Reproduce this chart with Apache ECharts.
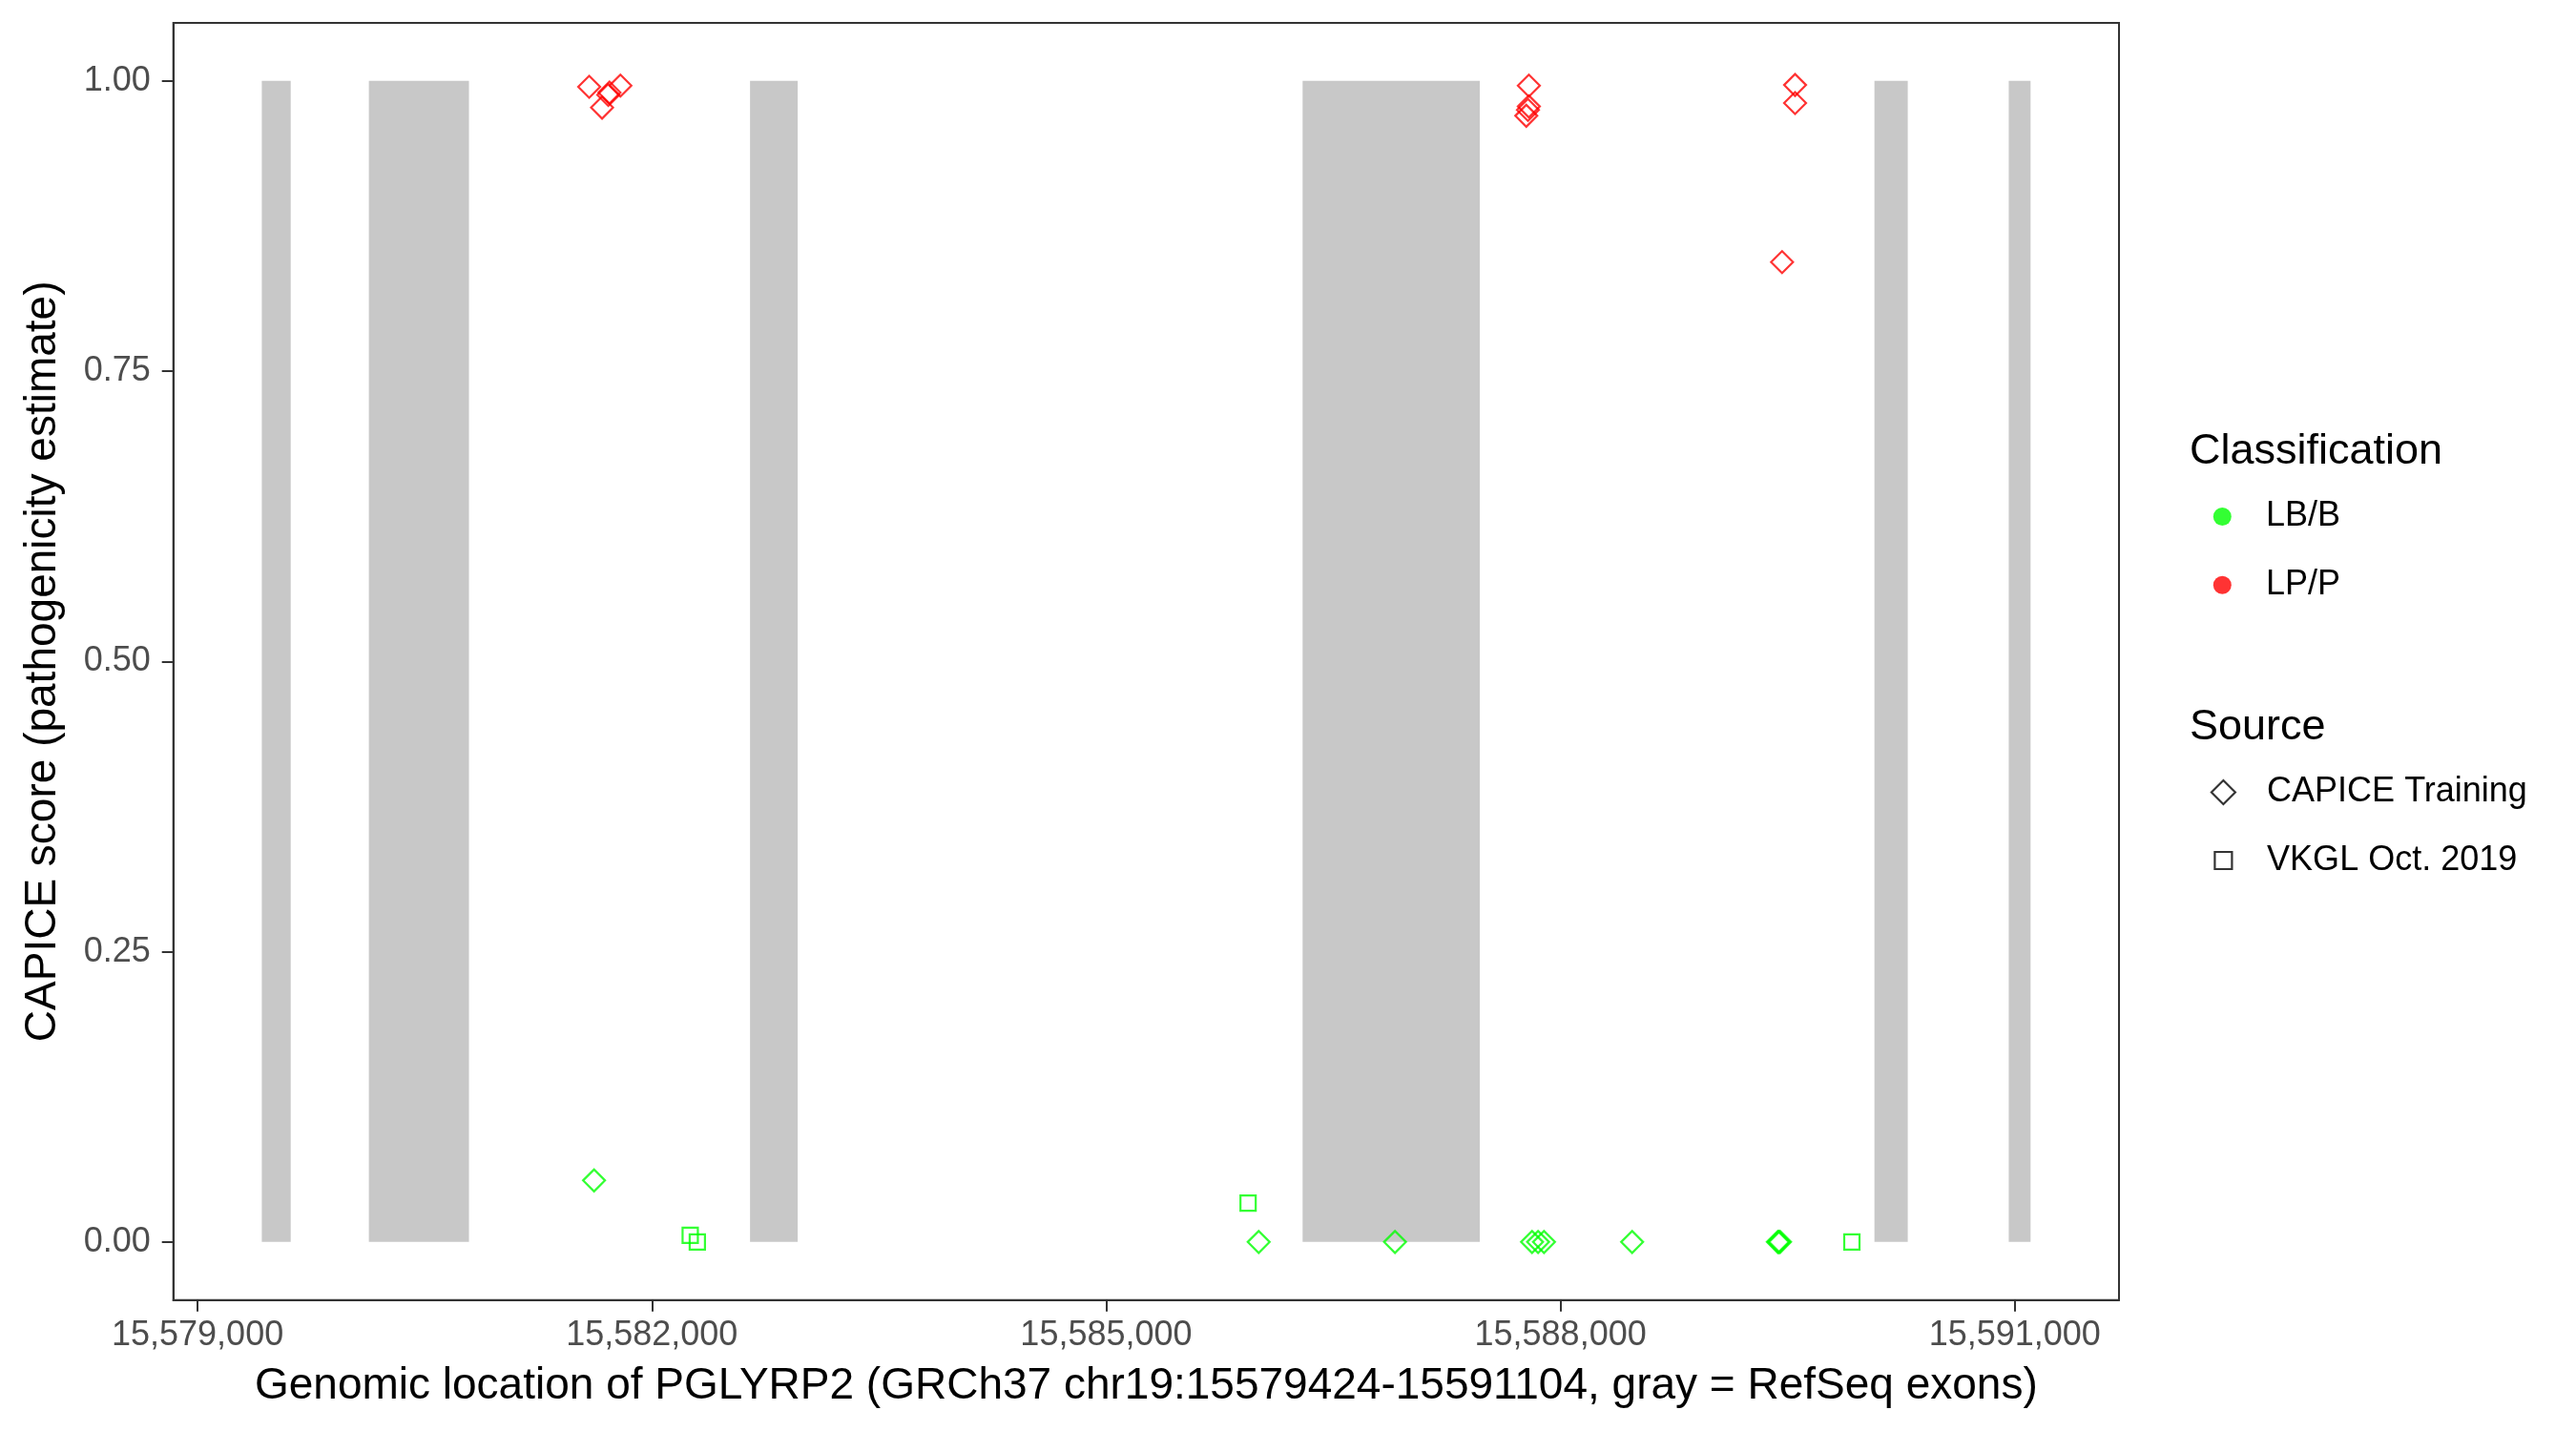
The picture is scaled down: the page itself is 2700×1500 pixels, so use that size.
<!DOCTYPE html>
<html>
<head>
<meta charset="utf-8">
<title>PGLYRP2 CAPICE scores</title>
<script src="https://cdn.jsdelivr.net/npm/echarts@6/dist/echarts.min.js"></script>
<style>
  html, body { margin: 0; padding: 0; background: #ffffff; }
  #chart { width: 2700px; height: 1500px; }
</style>
</head>
<body>
<div id="chart"></div>
<script>
'use strict';

// RefSeq exons (gray boxes), genomic start / end
var exonStart = [15579424, 15580131, 15582648, 15586297, 15590073, 15590960];
var exonEnd   = [15579615, 15580792, 15582963, 15587467, 15590293, 15591104];

// CAPICE training, LP/P (red diamonds)
var capicePathPos   = [15581586, 15581792, 15581712, 15581720, 15581671, 15587791, 15587791, 15587785, 15587774, 15589549, 15589549, 15589463];
var capicePathScore = [0.995, 0.996, 0.988, 0.990, 0.977, 0.996, 0.978, 0.975, 0.970, 0.9965, 0.981, 0.844];

// CAPICE training, LB/B (green diamonds)
var capiceBenPos   = [15581618, 15586007, 15586907, 15587812, 15587852, 15587891, 15588473, 15589435, 15589442, 15589450];
var capiceBenScore = [0.053, 0.0, 0.0, 0.0, 0.0, 0.0, 0.0, 0.0, 0.0, 0.0];

// VKGL Oct. 2019, LB/B (green squares)
var vkglBenPos   = [15582253, 15582300, 15585937, 15589924];
var vkglBenScore = [0.0057, 0.0, 0.0334, 0.0];

var xTicks = [15579000, 15582000, 15585000, 15588000, 15591000];
var yTicks = [0, 0.25, 0.5, 0.75, 1];

var GREEN = '#00FF00';
var RED = '#FF0000';
var FONT = '"Liberation Sans", Arial, sans-serif';

function pairs(xs, ys) {
    var out = [];
    for (var i = 0; i < xs.length; i++) {
        out.push([xs[i], ys[i]]);
    }
    return out;
}

function exonData() {
    var out = [];
    for (var i = 0; i < exonStart.length; i++) {
        out.push([exonStart[i], exonEnd[i]]);
    }
    return out;
}

function withCommas(v) {
    return String(v).replace(/\B(?=(\d{3})+(?!\d))/g, ',');
}

function hollow(color, symbol, size) {
    return {
        type: 'scatter',
        symbol: symbol,
        symbolSize: size,
        itemStyle: { color: 'rgba(0,0,0,0)', borderColor: color, borderWidth: 2.2 },
        emphasis: { disabled: true },
        z: 3
    };
}

var chart = echarts.init(document.getElementById('chart'));

var capPath = hollow(RED, 'diamond', 23);
capPath.name = 'capice-lp';
capPath.data = pairs(capicePathPos, capicePathScore);

var capBen = hollow(GREEN, 'diamond', 23);
capBen.name = 'capice-lb';
capBen.data = pairs(capiceBenPos, capiceBenScore);

var vkglBen = hollow(GREEN, 'rect', 16);
vkglBen.name = 'vkgl-lb';
vkglBen.data = pairs(vkglBenPos, vkglBenScore);

// empty series that only feed the legends
var keyLB = { type: 'scatter', name: 'LB/B', symbol: 'circle', itemStyle: { color: GREEN }, data: [] };
var keyLP = { type: 'scatter', name: 'LP/P', symbol: 'circle', itemStyle: { color: RED }, data: [] };
var keyCap = hollow('#000000', 'diamond', 23);
keyCap.name = 'CAPICE Training';
keyCap.data = [];
var keyVkgl = hollow('#000000', 'rect', 16);
keyVkgl.name = 'VKGL Oct. 2019';
keyVkgl.data = [];

// legend key centred at x = 2329, label starts at x = 2375
function legendAt(top, size, gap, items) {
    return {
        orient: 'vertical',
        left: 2329.3 - size / 2,
        top: top,
        padding: 0,
        itemWidth: size,
        itemHeight: size,
        itemGap: gap,
        selectedMode: false,
        textStyle: {
            fontFamily: FONT, fontSize: 36, color: '#000000',
            padding: [0, 0, 0, 2375 - (2329.3 + size / 2 + 5)]
        },
        data: items
    };
}

var titleStyle = { fontFamily: FONT, fontSize: 45, fontWeight: 'normal', color: '#000000' };

var option = {
    backgroundColor: '#FFFFFF',
    animation: false,
    title: [
        { text: 'Classification', left: 2295, top: 451, padding: 0, textStyle: titleStyle },
        { text: 'Source', left: 2295, top: 740, padding: 0, textStyle: titleStyle }
    ],
    legend: [
        legendAt(523.5, 19, 35.7, [
            { name: 'LB/B', icon: 'circle', itemStyle: { color: GREEN, borderWidth: 0 } },
            { name: 'LP/P', icon: 'circle', itemStyle: { color: RED, borderWidth: 0 } }
        ]),
        legendAt(812.5, 25, 10, [
            { name: 'CAPICE Training', icon: 'diamond',
              itemStyle: { color: 'rgba(0,0,0,0)', borderColor: '#000000', borderWidth: 2.2 } }
        ]),
        legendAt(884, 18, 10, [
            { name: 'VKGL Oct. 2019', icon: 'rect',
              itemStyle: { color: 'rgba(0,0,0,0)', borderColor: '#000000', borderWidth: 2.2 } }
        ])
    ],
    grid: {
        left: 181.7,
        right: 479,
        top: 24,
        bottom: 137.3,
        show: true,
        borderColor: '#333333',
        borderWidth: 2,
        backgroundColor: '#FFFFFF'
    },
    xAxis: {
        type: 'value',
        min: 15578840,
        max: 15591688,
        name: 'Genomic location of PGLYRP2 (GRCh37 chr19:15579424-15591104, gray = RefSeq exons)',
        nameLocation: 'middle',
        nameGap: 68,
        nameTextStyle: { fontFamily: FONT, fontSize: 46, color: '#000000' },
        axisLine: { show: true, onZero: false, lineStyle: { color: '#333333', width: 2 } },
        splitLine: { show: false },
        axisTick: { show: true, length: 12, customValues: xTicks, lineStyle: { color: '#333333', width: 2 } },
        axisLabel: {
            customValues: xTicks,
            margin: 19,
            fontFamily: FONT,
            fontSize: 36,
            color: '#4D4D4D',
            formatter: function (v) { return withCommas(v); }
        }
    },
    yAxis: {
        type: 'value',
        min: -0.05,
        max: 1.05,
        name: 'CAPICE score (pathogenicity estimate)',
        nameLocation: 'middle',
        nameGap: 113,
        nameTextStyle: { fontFamily: FONT, fontSize: 46, color: '#000000' },
        axisLine: { show: true, onZero: false, lineStyle: { color: '#333333', width: 2 } },
        splitLine: { show: false },
        axisTick: { show: true, length: 12, customValues: yTicks, lineStyle: { color: '#333333', width: 2 } },
        axisLabel: {
            customValues: yTicks,
            margin: 24,
            fontFamily: FONT,
            fontSize: 36,
            color: '#4D4D4D',
            formatter: function (v) { return v.toFixed(2); }
        }
    },
    series: [
        {
            type: 'custom',
            name: 'exons',
            z: 1,
            silent: true,
            renderItem: function (params, api) {
                var p0 = api.coord([api.value(0), 1]);
                var p1 = api.coord([api.value(1), 0]);
                return {
                    type: 'rect',
                    shape: { x: p0[0], y: p0[1], width: p1[0] - p0[0], height: p1[1] - p0[1] },
                    style: { fill: '#C8C8C8' }
                };
            },
            encode: { x: [0, 1], y: [] },
            data: exonData()
        },
        capBen,
        vkglBen,
        capPath,
        keyLB,
        keyLP,
        keyCap,
        keyVkgl
    ]
};

chart.setOption(option);
</script>
</body>
</html>
